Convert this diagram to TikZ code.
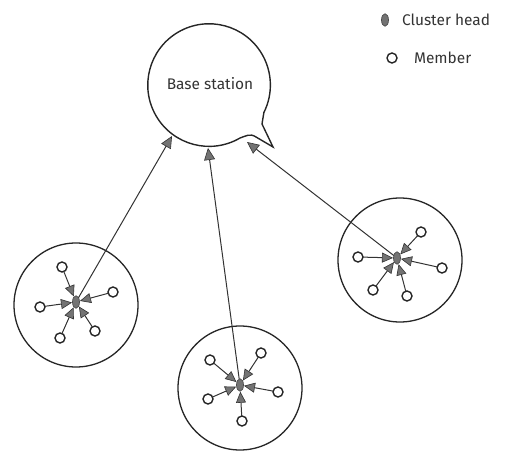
\documentclass[tikz,border=0pt]{standalone}
\usepackage{fontspec}
\setmainfont{Fira Sans}
\usetikzlibrary{arrows.meta,shapes.geometric}
\definecolor{tipgray}{gray}{0.45}
\begin{document}
\begin{tikzpicture}[x=1bp,y=-1bp,
  every node/.style={inner sep=0pt,outer sep=0pt},
  member/.style={circle,draw=black!85,line width=1.4bp,minimum size=10bp,fill=white},
  head/.style={ellipse,fill=tipgray,draw=black!70,line width=0.7bp,minimum width=7bp,minimum height=12.5bp},
  cluster/.style={circle,draw=black!85,line width=1.3bp,minimum size=124bp},
  feed/.style={draw=black!80,line width=1bp,shorten >=0.5bp,
    -{Triangle[length=11bp,width=10bp,fill=tipgray,line width=0.6bp]}},
  uplink/.style={draw=black!80,line width=1bp,
    -{Triangle[length=12bp,width=11bp,fill=tipgray,line width=0.6bp]}},
  txt/.style={font=\fontsize{15.5}{18}\selectfont,text=black!80}
]
\useasboundingbox (0,0) rectangle (522,451);

% base station: speech bubble with a tail at the lower right
\draw[line width=1.4bp,draw=black!85]
  (273,147) -- (256,137) .. controls (250,133) and (246,136) .. (240,138)
  arc[start angle=59.7,end angle=386.6,radius=61.3]
  -- (262,124) -- cycle;
\node[txt] (bs) at (210,84) {Base station};
\coordinate (bsL) at (172,136);
\coordinate (bsM) at (208,148);
\coordinate (bsR) at (247,142);

% legend
\node[head] (lh) at (385,20) {};
\node[txt,anchor=west] (lht) at (402,20) {Cluster head};
\node[member] (lm) at (392,58) {};
\node[txt,anchor=west] (lmt) at (414,58) {Member};

% left cluster
\node[cluster] (c1) at (76,305) {};
\node[head] (h1) at (76,302) {};
\node[member] (m11) at (62,267) {};
\node[member] (m12) at (113,292) {};
\node[member] (m13) at (40,307) {};
\node[member] (m14) at (60,338) {};
\node[member] (m15) at (95,331) {};
\foreach \m in {m11,m12,m13,m14,m15} \draw[feed] (\m) -- (h1);
\draw[uplink] (h1) -- (bsL);

% middle cluster
\node[cluster] (c2) at (240,388) {};
\node[head] (h2) at (240,385) {};
\node[member] (m21) at (210,360) {};
\node[member] (m22) at (261,353) {};
\node[member] (m23) at (278,392) {};
\node[member] (m24) at (208,399) {};
\node[member] (m25) at (242,421) {};
\foreach \m in {m21,m22,m23,m24,m25} \draw[feed] (\m) -- (h2);
\draw[uplink] (h2) -- (bsM);

% right cluster
\node[cluster] (c3) at (400,260) {};
\node[head] (h3) at (397,258) {};
\node[member] (m31) at (421,232) {};
\node[member] (m32) at (358,257) {};
\node[member] (m33) at (442,268) {};
\node[member] (m34) at (373,290) {};
\node[member] (m35) at (407,296) {};
\foreach \m in {m31,m32,m33,m34,m35} \draw[feed] (\m) -- (h3);
\draw[uplink] (h3) -- (bsR);
\end{tikzpicture}
\end{document}
